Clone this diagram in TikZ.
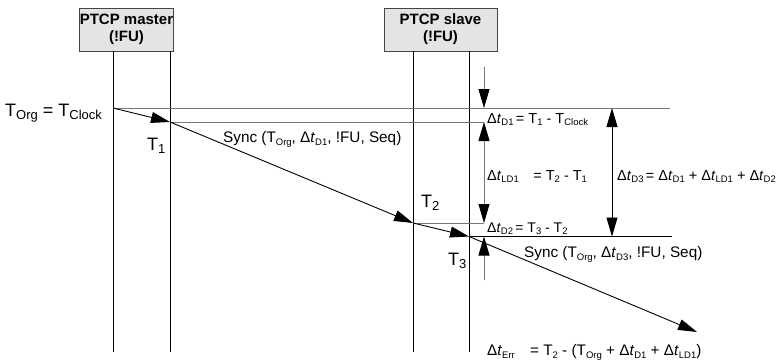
\documentclass[tikz,border=0pt]{standalone}
\usepackage{fontspec}
\setmainfont{Liberation Sans}
\usetikzlibrary{arrows.meta}
\newcommand\sbs[2][9.5]{\raisebox{-0.2em}{\fontsize{#1}{#1}\selectfont #2}}
\newcommand\dlt[1]{Δ\textit{t}\sbs{#1}}
\definecolor{boxfill}{RGB}{228,228,228}
\definecolor{boxline}{RGB}{70,70,70}
\definecolor{ln}{RGB}{120,120,120}
\tikzset{
  ptcpbox/.style={draw=boxline,fill=boxfill,line width=0.9pt,align=center,inner sep=0pt,
    font=\fontsize{15}{17}\selectfont\bfseries},
  life/.style={line width=0.9pt,black},
  hline/.style={line width=1pt,ln},
  msg/.style={line width=0.9pt,black,-{Triangle[length=19pt,width=11pt]}},
  dim/.style={line width=0.9pt,-{Triangle[length=19pt,width=11pt,color=black]}},
  dimboth/.style={line width=0.9pt,{Triangle[length=19pt,width=11pt,color=black]}-{Triangle[length=19pt,width=11pt,color=black]}},
  lbl/.style={anchor=base west,inner sep=0pt,font=\fontsize{14.5}{16}\selectfont},
  lblb/.style={anchor=base west,inner sep=0pt,font=\fontsize{15.3}{17}\selectfont},
  bigT/.style={anchor=base west,inner sep=0pt,font=\fontsize{18}{20}\selectfont},
}
\begin{document}
\begin{tikzpicture}[x=1pt,y=-1pt]
\useasboundingbox (0,0) rectangle (780,364);
% boxes
\node[ptcpbox,minimum width=87pt,minimum height=43pt] (mbox) at (126.5,29.5) {PTCP master\\(!FU)};
\node[ptcpbox,minimum width=113pt,minimum height=43pt] (sbox) at (440.5,29.5) {PTCP slave\\(!FU)};
% lifeline coordinates
\coordinate (m1t) at (113,51); \coordinate (m1b) at (113,352);
\coordinate (m2t) at (170,51); \coordinate (m2b) at (170,352);
\coordinate (s1t) at (413,51); \coordinate (s1b) at (413,352);
\coordinate (s2t) at (469,51); \coordinate (s2b) at (469,352);
\draw[life] (m1t) -- (m1b);
\draw[life] (m2t) -- (m2b);
\draw[life] (s1t) -- (s1b);
\draw[life] (s2t) -- (s2b);
% event points
\coordinate (org) at (113,108);
\coordinate (t1) at (170,122);
\coordinate (t2) at (413,223);
\coordinate (t3) at (469,236.5);
\coordinate (tend) at (697,332);
\coordinate (orgR) at (670,108);
\coordinate (t1R) at (484,122);
\coordinate (t2R) at (484,223);
\coordinate (t3R) at (672,236.5);
\coordinate (d1top) at (484,67);
\coordinate (d1tip) at (484,108);
\coordinate (d2bot) at (484,280);
\coordinate (d2tip) at (484,236.5);
\coordinate (d3a) at (612,108);
\coordinate (d3b) at (612,236.5);
% horizontal reference lines
\draw[hline] (org) -- (orgR);
\draw[hline] (t1) -- (t1R);
\draw[hline] (t2) -- (t2R);
\draw[line width=1pt,black] (t3) -- (t3R);
% dimension arrows
\draw[dim,ln] (d1top) -- (d1tip);
\draw[dimboth,ln] (t1R) -- (t2R);
\draw[dim,ln] (d2bot) -- (d2tip);
\draw[dimboth,black] (d3a) -- (d3b);
% messages
\draw[msg] (org) -- (t1);
\draw[msg] (t1) -- (t2);
\draw[msg] (t2) -- (t3);
\draw[msg] (t3) -- (tend);
% labels
\node[bigT] (lorg) at (5,116) {T\sbs[13]{Org} = T\sbs[13]{Clock}};
\node[bigT] (lt1) at (147,150) {T\sbs[13]{1}};
\node[bigT] (lt2) at (421,207) {T\sbs[13]{2}};
\node[bigT] (lt3) at (448,265) {T\sbs[13]{3}};
\node[lblb] (sync1) at (223,142) {Sync (T\sbs{Org}, \dlt{D1}, !FU, Seq)};
\node[lblb] (sync2) at (524,257) {Sync (T\sbs{Org}, \dlt{D3}, !FU, Seq)};
\node[lbl] (ld1) at (487,123) {\dlt{D1}\,= T\sbs{1} - T\sbs{Clock}};
\node[lbl] (lld1) at (487,180) {\dlt{LD1}\quad = T\sbs{2} - T\sbs{1}};
\node[lbl] (ld3) at (617,180) {\dlt{D3}\,= \dlt{D1} + \dlt{LD1} + \dlt{D2}};
\node[lbl,font=\fontsize{14}{16}\selectfont] (ld2) at (487,232) {\dlt{D2}\,= T\sbs{3} - T\sbs{2}};
\node[lblb] (lerr) at (487,355) {\dlt{Err}\quad = T\sbs{2} - (T\sbs{Org} + \dlt{D1} + \dlt{LD1})};
\end{tikzpicture}
\end{document}
